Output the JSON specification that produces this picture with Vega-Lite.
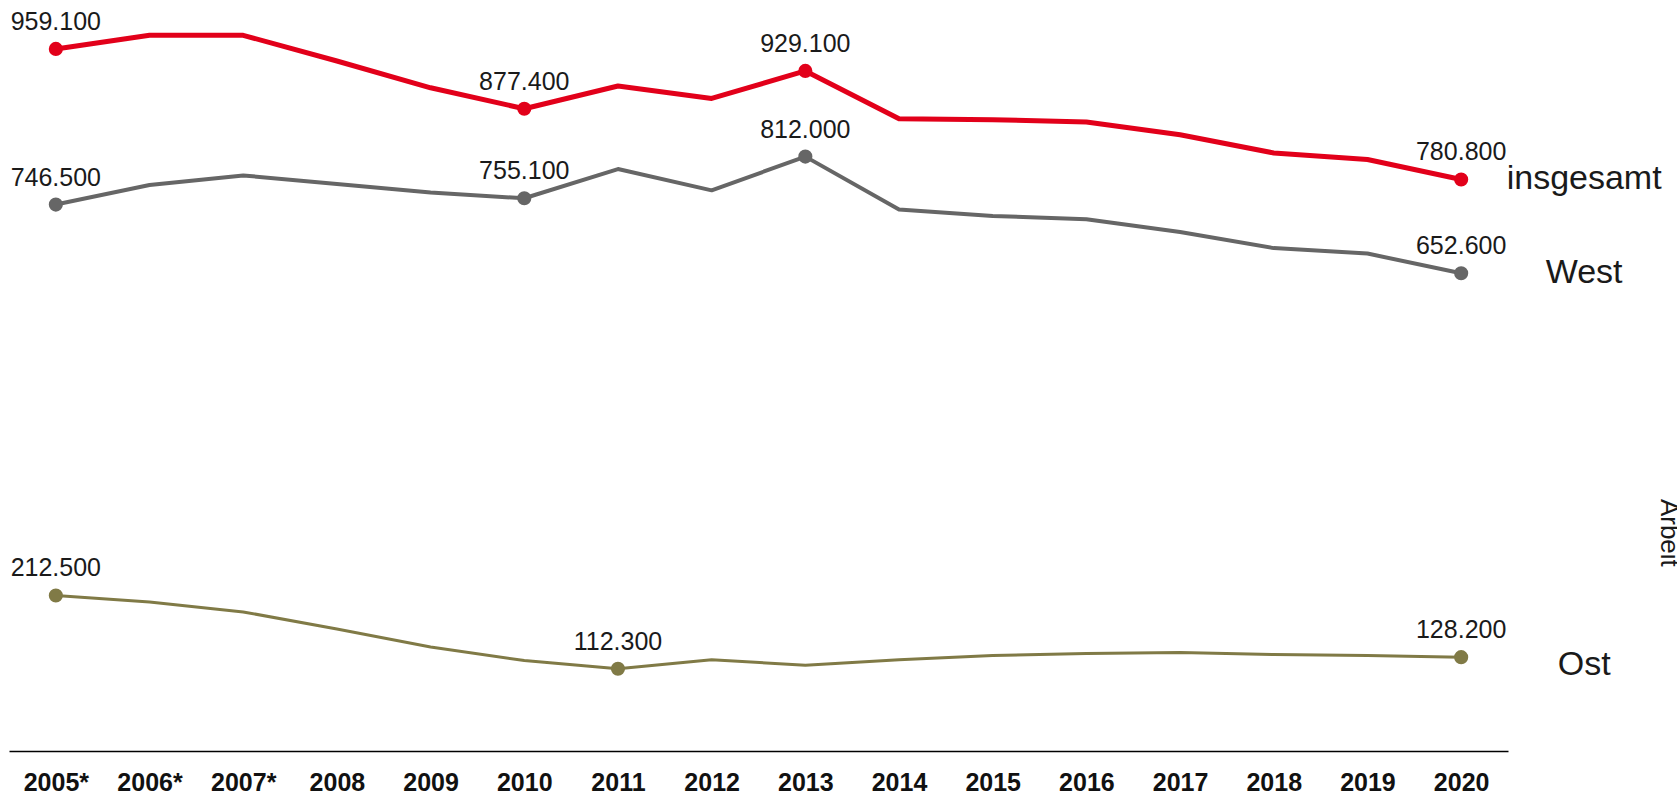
{
  "$schema": "https://vega.github.io/schema/vega-lite/v6.json",
  "width": 1499,
  "height": 732,
  "autosize": {"type": "none"},
  "padding": {"left": 9, "top": 19, "right": 169, "bottom": 44},
  "background": "white",
  "config": {"view": {"stroke": null}},
  "data": {
    "values": [
      {"jahr": "2005*", "serie": "insgesamt", "wert": 959.1, "label": "959.100"},
      {"jahr": "2006*", "serie": "insgesamt", "wert": 977.7, "label": ""},
      {"jahr": "2007*", "serie": "insgesamt", "wert": 977.7, "label": ""},
      {"jahr": "2008", "serie": "insgesamt", "wert": 942.6, "label": ""},
      {"jahr": "2009", "serie": "insgesamt", "wert": 906.0, "label": ""},
      {"jahr": "2010", "serie": "insgesamt", "wert": 877.4, "label": "877.400"},
      {"jahr": "2011", "serie": "insgesamt", "wert": 908.5, "label": ""},
      {"jahr": "2012", "serie": "insgesamt", "wert": 891.5, "label": ""},
      {"jahr": "2013", "serie": "insgesamt", "wert": 929.1, "label": "929.100"},
      {"jahr": "2014", "serie": "insgesamt", "wert": 863.8, "label": ""},
      {"jahr": "2015", "serie": "insgesamt", "wert": 862.3, "label": ""},
      {"jahr": "2016", "serie": "insgesamt", "wert": 859.4, "label": ""},
      {"jahr": "2017", "serie": "insgesamt", "wert": 841.8, "label": ""},
      {"jahr": "2018", "serie": "insgesamt", "wert": 817.0, "label": ""},
      {"jahr": "2019", "serie": "insgesamt", "wert": 808.0, "label": ""},
      {"jahr": "2020", "serie": "insgesamt", "wert": 780.8, "label": "780.800"},
      {"jahr": "2005*", "serie": "West", "wert": 746.5, "label": "746.500"},
      {"jahr": "2006*", "serie": "West", "wert": 773.2, "label": ""},
      {"jahr": "2007*", "serie": "West", "wert": 786.3, "label": ""},
      {"jahr": "2008", "serie": "West", "wert": 774.6, "label": ""},
      {"jahr": "2009", "serie": "West", "wert": 763.0, "label": ""},
      {"jahr": "2010", "serie": "West", "wert": 755.1, "label": "755.100"},
      {"jahr": "2011", "serie": "West", "wert": 795.0, "label": ""},
      {"jahr": "2012", "serie": "West", "wert": 765.9, "label": ""},
      {"jahr": "2013", "serie": "West", "wert": 812.0, "label": "812.000"},
      {"jahr": "2014", "serie": "West", "wert": 739.6, "label": ""},
      {"jahr": "2015", "serie": "West", "wert": 730.9, "label": ""},
      {"jahr": "2016", "serie": "West", "wert": 726.5, "label": ""},
      {"jahr": "2017", "serie": "West", "wert": 709.0, "label": ""},
      {"jahr": "2018", "serie": "West", "wert": 687.0, "label": ""},
      {"jahr": "2019", "serie": "West", "wert": 679.6, "label": ""},
      {"jahr": "2020", "serie": "West", "wert": 652.6, "label": "652.600"},
      {"jahr": "2005*", "serie": "Ost", "wert": 212.5, "label": "212.500"},
      {"jahr": "2006*", "serie": "Ost", "wert": 203.5, "label": ""},
      {"jahr": "2007*", "serie": "Ost", "wert": 190.0, "label": ""},
      {"jahr": "2008", "serie": "Ost", "wert": 166.8, "label": ""},
      {"jahr": "2009", "serie": "Ost", "wert": 142.0, "label": ""},
      {"jahr": "2010", "serie": "Ost", "wert": 123.5, "label": ""},
      {"jahr": "2011", "serie": "Ost", "wert": 112.3, "label": "112.300"},
      {"jahr": "2012", "serie": "Ost", "wert": 124.6, "label": ""},
      {"jahr": "2013", "serie": "Ost", "wert": 117.2, "label": ""},
      {"jahr": "2014", "serie": "Ost", "wert": 124.6, "label": ""},
      {"jahr": "2015", "serie": "Ost", "wert": 130.3, "label": ""},
      {"jahr": "2016", "serie": "Ost", "wert": 133.2, "label": ""},
      {"jahr": "2017", "serie": "Ost", "wert": 134.7, "label": ""},
      {"jahr": "2018", "serie": "Ost", "wert": 131.8, "label": ""},
      {"jahr": "2019", "serie": "Ost", "wert": 130.3, "label": ""},
      {"jahr": "2020", "serie": "Ost", "wert": 128.2, "label": "128.200"}
    ]
  },
  "encoding": {
    "x": {
      "field": "jahr",
      "type": "ordinal",
      "sort": null,
      "scale": {"type": "point", "padding": 0.5},
      "axis": {
        "title": null,
        "labelAngle": 0,
        "ticks": false,
        "domainColor": "#000000",
        "domainWidth": 1.5,
        "labelFont": "Liberation Sans Narrow, Liberation Sans, Arial, sans-serif",
        "labelFontWeight": "bold",
        "labelFontSize": 25,
        "labelColor": "#111111",
        "labelPadding": 19,
        "grid": false
      }
    },
    "y": {
      "field": "wert",
      "type": "quantitative",
      "scale": {"domain": [0, 1000]},
      "axis": null
    }
  },
  "layer": [
    {
      "mark": {"type": "line", "strokeCap": "round", "strokeJoin": "round"},
      "encoding": {
        "color": {
          "field": "serie",
          "type": "nominal",
          "scale": {"domain": ["insgesamt", "West", "Ost"], "range": ["#e2001a", "#666666", "#807a46"]},
          "legend": null
        },
        "strokeWidth": {
          "field": "serie",
          "type": "nominal",
          "scale": {"domain": ["insgesamt", "West", "Ost"], "range": [5, 3, 3]},
          "legend": null
        }
      }
    },
    {
      "transform": [{"filter": "datum.label != ''"}],
      "mark": {"type": "circle", "size": 200, "opacity": 1},
      "encoding": {
        "color": {
          "field": "serie",
          "type": "nominal",
          "scale": {"domain": ["insgesamt", "West", "Ost"], "range": ["#e2001a", "#666666", "#807a46"]},
          "legend": null
        }
      }
    },
    {
      "transform": [{"filter": "datum.label != ''"}],
      "mark": {
        "type": "text",
        "font": "Liberation Sans Narrow, Liberation Sans, Arial, sans-serif",
        "fontSize": 25,
        "color": "#1a1a1a",
        "align": "center",
        "baseline": "alphabetic",
        "dy": -19
      },
      "encoding": {"text": {"field": "label"}}
    },
    {
      "transform": [{"filter": "datum.jahr == '2020' && datum.serie != 'Ost'"}],
      "mark": {
        "type": "text",
        "font": "Liberation Sans, Arial, sans-serif",
        "fontSize": 34,
        "color": "#1a1a1a",
        "align": "center",
        "baseline": "middle",
        "dx": 123
      },
      "encoding": {"text": {"field": "serie"}}
    },
    {
      "transform": [{"filter": "datum.jahr == '2020' && datum.serie == 'Ost'"}],
      "mark": {
        "type": "text",
        "font": "Liberation Sans, Arial, sans-serif",
        "fontSize": 34,
        "color": "#1a1a1a",
        "align": "center",
        "baseline": "middle",
        "dx": 123,
        "dy": 8
      },
      "encoding": {"text": {"field": "serie"}}
    },
    {
      "data": {"values": [{"quelle": "Arbeit", "jahr": "2020", "wert": 298}]},
      "mark": {
        "type": "text",
        "font": "Liberation Sans, Arial, sans-serif",
        "fontSize": 26,
        "color": "#1a1a1a",
        "angle": 90,
        "align": "center",
        "baseline": "alphabetic",
        "dy": -200
      },
      "encoding": {"text": {"field": "quelle"}}
    }
  ]
}
